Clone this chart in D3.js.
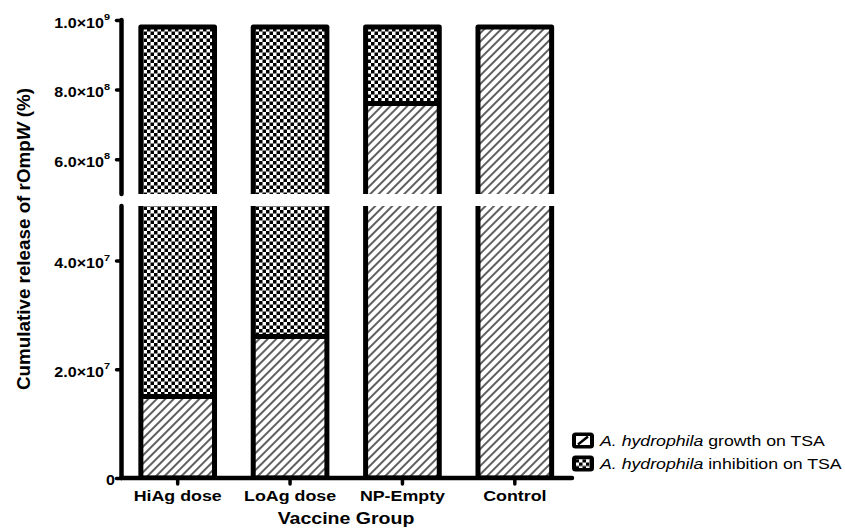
<!DOCTYPE html>
<html>
<head>
<meta charset="utf-8">
<script src="https://cdn.jsdelivr.net/npm/d3@7"></script>
<style>
  body { margin: 0; background: #fff; }
  svg { display: block; font-family: "Liberation Sans", Arial, sans-serif; }
</style>
</head>
<body>
<svg id="chart" width="845" height="528"></svg>
<script>
// values
const groups = ["HiAg dose", "LoAg dose", "NP-Empty", "Control"];
const growth = [1.5e7, 2.6e7, 7.6e8, 9.8e8];
const inhibition = [9.65e8, 9.54e8, 2.2e8, 0];
const lowerTicks = [0, 2e7, 4e7];
const upperTicks = [6e8, 8e8, 1e9];
const legendLabels = ["growth on TSA", "inhibition on TSA"];

// the reference text is a bit wider than Arial, so stretch it sideways
const STRETCH = 1.15;
const AXIS_X = 121.5;
const AXIS_Y = 478;

const svg = d3.select("#chart");
const defs = svg.append("defs");

const hatch = defs.append("pattern").attr("id", "hatch")
    .attr("patternUnits", "userSpaceOnUse")
    .attr("width", 6).attr("height", 6)
    .attr("patternTransform", "rotate(45)");
hatch.append("rect").attr("width", 6).attr("height", 6).attr("fill", "#fff");
hatch.append("line").attr("x1", 3).attr("x2", 3).attr("y1", 0).attr("y2", 6)
    .attr("stroke", "#000").attr("stroke-width", 1.25);

const checker = defs.append("pattern").attr("id", "checker")
    .attr("patternUnits", "userSpaceOnUse")
    .attr("width", 7).attr("height", 7);
checker.append("rect").attr("width", 7).attr("height", 7).attr("fill", "#fff");
checker.append("rect").attr("width", 3.5).attr("height", 3.5).attr("fill", "#000");
checker.append("rect").attr("x", 3.5).attr("y", 3.5).attr("width", 3.5).attr("height", 3.5).attr("fill", "#000");

const x = d3.scaleBand().domain(groups)
    .range([AXIS_X, 571]).paddingInner(0.3).paddingOuter(0.15);
const yLow = d3.scaleLinear().domain([0, 5e7]).range([AXIS_Y, 206]);
const yHigh = d3.scaleLinear().domain([5e8, 1e9]).range([194, 20]);

// axis is broken in two pieces
const segments = [
    {id: "low", y: yLow, top: 206, bottom: AXIS_Y, ticks: lowerTicks},
    {id: "high", y: yHigh, top: 0, bottom: 194, ticks: upperTicks}
];

const rows = groups.map((g, i) => ({
    group: g, growth: growth[i], inhibition: inhibition[i],
    total: growth[i] + inhibition[i]
}));

const SW = 5;
const bw = x.bandwidth() - SW;

segments.forEach(seg => {
    defs.append("clipPath").attr("id", "clip-" + seg.id)
        .append("rect").attr("x", 0).attr("y", seg.top)
        .attr("width", 845).attr("height", seg.bottom - seg.top);

    const g = svg.append("g").attr("clip-path", `url(#clip-${seg.id})`);
    const y = seg.y;

    g.selectAll(".growth").data(rows).join("rect")
        .attr("x", d => x(d.group) + SW / 2).attr("width", bw)
        .attr("y", d => y(d.growth)).attr("height", d => y(0) - y(d.growth))
        .attr("fill", "url(#hatch)");

    g.selectAll(".inhib").data(rows.filter(d => d.inhibition > 0)).join("rect")
        .attr("x", d => x(d.group) + SW / 2).attr("width", bw)
        .attr("y", d => y(d.total)).attr("height", d => y(d.growth) - y(d.total))
        .attr("fill", "url(#checker)");

    g.selectAll(".divider").data(rows.filter(d => d.inhibition > 0)).join("line")
        .attr("x1", d => x(d.group) + SW / 2).attr("x2", d => x(d.group) + SW / 2 + bw)
        .attr("y1", d => y(d.growth)).attr("y2", d => y(d.growth))
        .attr("stroke", "#000").attr("stroke-width", SW);

    g.selectAll(".outline").data(rows).join("rect")
        .attr("x", d => x(d.group) + SW / 2).attr("width", bw)
        .attr("y", d => y(d.total)).attr("height", d => y(0) - y(d.total))
        .attr("fill", "none").attr("stroke", "#000")
        .attr("stroke-width", SW).attr("stroke-linejoin", "round");

    // axis line piece
    svg.append("line")
        .attr("x1", AXIS_X).attr("x2", AXIS_X)
        .attr("y1", seg.top === 0 ? 20 : seg.top).attr("y2", seg.bottom)
        .attr("stroke", "#000").attr("stroke-width", 4.5).attr("stroke-linecap", "round");

    const ax = svg.append("g").attr("transform", `translate(${AXIS_X},0)`)
        .call(d3.axisLeft(y).tickValues(seg.ticks).tickSize(5));
    ax.select(".domain").remove();
    ax.selectAll(".tick line").attr("stroke-width", 3.5).attr("stroke-linecap", "round");
    ax.selectAll(".tick text").each(function(v) {
        const t = d3.select(this).text(null)
            .attr("x", 0).attr("dy", null)
            .attr("font-size", 14).attr("font-weight", "bold")
            .attr("font-family", "Liberation Sans, Arial, sans-serif")
            .attr("fill", "#000");
        if (v === 0) {
            t.attr("transform", `translate(-6.5,6) scale(${STRETCH},1)`).text("0");
            return;
        }
        const exp = Math.floor(Math.log10(v));
        const mant = (v / Math.pow(10, exp)).toFixed(1);
        t.attr("transform", `translate(-11.5,7.3) scale(${STRETCH},1)`);
        t.append("tspan").text(mant + "\u00d710");
        t.append("tspan").attr("font-size", 9.5).attr("dy", -7.6).text(exp);
    });
});

// x axis
svg.append("line")
    .attr("x1", AXIS_X).attr("x2", 572).attr("y1", AXIS_Y).attr("y2", AXIS_Y)
    .attr("stroke", "#000").attr("stroke-width", 4.5).attr("stroke-linecap", "round");

const xAx = svg.append("g").attr("transform", `translate(0,${AXIS_Y})`)
    .call(d3.axisBottom(x).tickSize(6));
xAx.select(".domain").remove();
xAx.selectAll(".tick line").attr("stroke-width", 3.5).attr("stroke-linecap", "round");
xAx.selectAll(".tick text")
    .attr("y", 0).attr("dy", null)
    .attr("transform", `translate(0,22.5) scale(${STRETCH},1)`)
    .attr("font-size", 15.5).attr("font-weight", "bold")
    .attr("font-family", "Liberation Sans, Arial, sans-serif")
    .attr("fill", "#000");

// titles
svg.append("text")
    .attr("transform", `translate(346,523.5) scale(${STRETCH},1)`)
    .attr("text-anchor", "middle").attr("font-size", 17).attr("font-weight", "bold")
    .text("Vaccine Group");

const yTitle = svg.append("text")
    .attr("transform", "translate(30,239) rotate(-90) scale(1,1.15)")
    .attr("text-anchor", "middle").attr("font-size", 16).attr("font-weight", "bold")
    .attr("textLength", 302).attr("lengthAdjust", "spacingAndGlyphs");
yTitle.append("tspan").text("Cumulative release of rOmp");
yTitle.append("tspan").attr("font-style", "italic").text("W");
yTitle.append("tspan").text(" (%)");

// legend
const legend = svg.append("g").attr("transform", "translate(572,432.5)");
const items = legend.selectAll("g").data(legendLabels).join("g")
    .attr("transform", (d, i) => `translate(0,${i * 23})`);
items.append("rect").attr("width", 22).attr("height", 16).attr("rx", 3.5).attr("fill", "#000");
items.append("rect").attr("x", 4).attr("y", 3.5).attr("width", 14).attr("height", 9)
    .attr("fill", (d, i) => i === 0 ? "#fff" : "url(#checker)");
items.filter((d, i) => i === 0).append("line")
    .attr("x1", 6).attr("y1", 12).attr("x2", 16).attr("y2", 4)
    .attr("stroke", "#000").attr("stroke-width", 2.5);
const lt = items.append("text")
    .attr("transform", `translate(28,13.5) scale(${STRETCH},1)`)
    .attr("font-size", 15.4);
lt.append("tspan").attr("font-style", "italic").text("A. hydrophila");
lt.append("tspan").text(d => " " + d);
</script>
</body>
</html>
